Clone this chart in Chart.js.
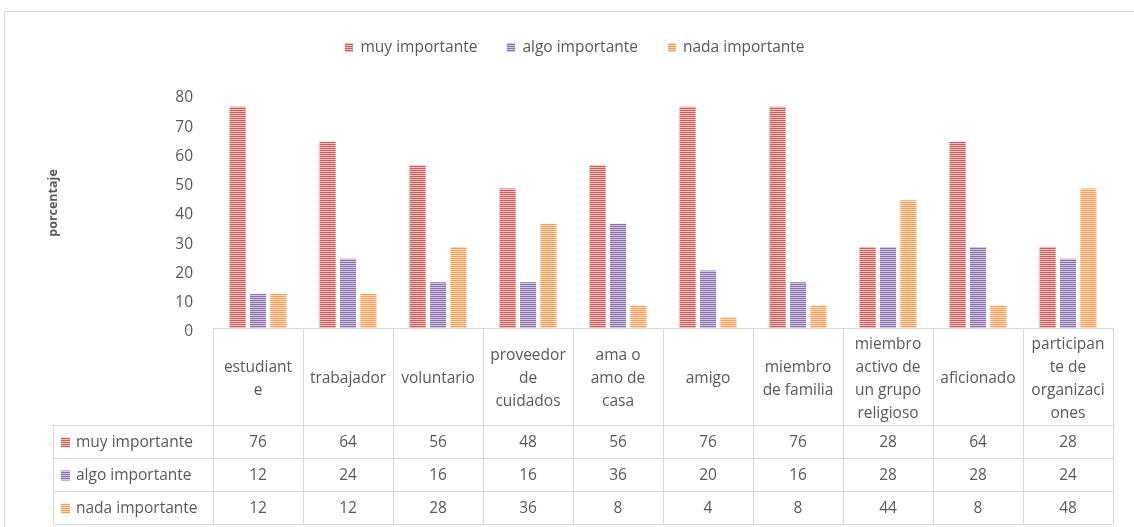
<!DOCTYPE html>
<html>
<head>
<meta charset="utf-8">
<script src="https://cdn.jsdelivr.net/npm/chart.js@4.4.0/dist/chart.umd.min.js"></script>
<style>
html,body{margin:0;padding:0;background:#fff;}
#wrap{width:1134px;height:527px;position:relative;}
</style>
</head>
<body>
<div id="wrap"><canvas id="c"></canvas></div>
<script>
// ---- data ----
const categories = [["estudiant","e"],["trabajador"],["voluntario"],["proveedor","de","cuidados"],["ama o","amo de","casa"],["amigo"],["miembro","de familia"],["miembro","activo de","un grupo","religioso"],["aficionado"],["participan","te de","organizaci","ones"]];
const seriesNames = ["muy importante","algo importante","nada importante"];
const muyImportante = [76,64,56,48,56,76,76,28,64,28];
const algoImportante = [12,24,16,16,36,20,16,28,28,24];
const nadaImportante = [12,12,28,36,8,4,8,44,8,48];
const yMin = 0, yMax = 80, yStep = 10;
const yTitle = "porcentaje";

// ---- styles ----
const FONT = "'Open Sans', sans-serif";
const FS = 15.5;
const TXT = "#595959";
const GRID = "#d9d9d9";
const palette = [["#c9605d","#ecbebd"],["#8a70ab","#d3c8e1"],["#f8a05a","#fdd8ba"]];

function stripe(dark, light){
  const c = document.createElement('canvas');
  c.width = 4; c.height = 2;
  const g = c.getContext('2d');
  g.fillStyle = light; g.fillRect(0,0,4,2);
  g.fillStyle = dark; g.fillRect(0,0,4,1);
  return g.createPattern(c,'repeat');
}
const ctx0 = document.getElementById('c').getContext('2d');
const patterns = palette.map(p => stripe(p[0], p[1]));
const seriesData = [muyImportante, algoImportante, nadaImportante];

const decorPlugin = {
  id: 'decor',
  beforeDraw(chart){
    const ctx = chart.ctx;
    ctx.save();
    ctx.fillStyle = '#fff';
    ctx.fillRect(0,0,chart.width,chart.height);
    ctx.strokeStyle = GRID;
    ctx.lineWidth = 1;
    ctx.strokeRect(4.5, 11.5, chart.width + 10, chart.height + 10);
    ctx.restore();
  },
  afterDraw(chart){
    const ctx = chart.ctx;
    const area = chart.chartArea;
    const xs = chart.scales.x;
    const n = categories.length;
    const w = (area.right - area.left) / n;
    const top = area.bottom;
    const headBottom = top + 97;
    const rowH = 33;
    const tableLeft = 53;
    ctx.save();
    ctx.strokeStyle = GRID;
    ctx.lineWidth = 1;
    const hl = (y, x1, x2) => { ctx.beginPath(); ctx.moveTo(x1, Math.round(y)+0.5); ctx.lineTo(x2, Math.round(y)+0.5); ctx.stroke(); };
    const vl = (x, y1, y2) => { ctx.beginPath(); ctx.moveTo(Math.round(x)+0.5, y1); ctx.lineTo(Math.round(x)+0.5, y2); ctx.stroke(); };
    hl(top, area.left, area.right);
    for (let r = 0; r <= 3; r++) hl(headBottom + r*rowH, tableLeft, area.right);
    for (let i = 0; i <= n; i++) vl(area.left + i*w, top, headBottom + 3*rowH);
    vl(tableLeft, headBottom, headBottom + 3*rowH);
    // category labels
    ctx.fillStyle = TXT;
    ctx.font = FS + "px " + FONT;
    ctx.textAlign = 'center';
    ctx.textBaseline = 'middle';
    const lh = 23;
    const mid = top + 51;
    for (let i = 0; i < n; i++) {
      const cx = xs.getPixelForValue(i);
      const lines = categories[i];
      const y0 = mid - (lines.length - 1) * lh / 2;
      lines.forEach((t, k) => ctx.fillText(t, cx, y0 + k*lh));
    }
    // data rows
    for (let s = 0; s < 3; s++) {
      const cy = headBottom + s*rowH + rowH/2 + 1;
      ctx.textAlign = 'center';
      ctx.fillStyle = TXT;
      for (let i = 0; i < n; i++) {
        ctx.fillText(String(seriesData[s][i]), xs.getPixelForValue(i), cy);
      }
      ctx.fillStyle = patterns[s];
      ctx.fillRect(61, cy - 5, 9, 10);
      ctx.fillStyle = TXT;
      ctx.textAlign = 'left';
      ctx.fillText(seriesNames[s], 76, cy);
    }
    // legend
    ctx.font = FS + "px " + FONT;
    const widths = seriesNames.map(t => ctx.measureText(t).width);
    const keyW = 8, keyGap = 7, itemGap = 30;
    const total = widths.reduce((a,b)=>a+b,0) + 3*(keyW+keyGap) + 2*itemGap;
    let x = 575 - total/2;
    const ly = 48;
    for (let s = 0; s < 3; s++) {
      ctx.fillStyle = patterns[s];
      ctx.fillRect(Math.round(x), ly - 5, keyW, 9);
      ctx.fillStyle = TXT;
      ctx.textAlign = 'left';
      ctx.fillText(seriesNames[s], x + keyW + keyGap, ly);
      x += keyW + keyGap + widths[s] + itemGap;
    }
    // y title
    ctx.save();
    ctx.translate(53, 203);
    ctx.rotate(-Math.PI/2);
    ctx.font = "bold 12.5px " + FONT;
    ctx.textAlign = 'center';
    ctx.fillStyle = TXT;
    ctx.fillText(yTitle, 0, 0);
    ctx.restore();
    ctx.restore();
  }
};

new Chart(document.getElementById('c'), {
  type: 'bar',
  data: {
    labels: categories,
    datasets: seriesNames.map((name, s) => ({
      label: name,
      data: seriesData[s],
      backgroundColor: patterns[s],
      borderColor: 'rgba(255,255,255,0.7)',
      borderWidth: 1,
      categoryPercentage: 0.68,
      barPercentage: 0.89
    }))
  },
  options: {
    responsive: true,
    maintainAspectRatio: false,
    animation: false,
    layout: { padding: { left: 43, right: 21, top: 94, bottom: 199 } },
    plugins: { legend: { display: false }, tooltip: { enabled: false } },
    scales: {
      x: { display: false },
      y: {
        min: yMin, max: yMax,
        ticks: { stepSize: yStep, padding: 20, labelOffset: 4, color: TXT, font: { family: FONT, size: FS } },
        grid: { display: false, drawTicks: false },
        border: { display: false },
        afterFit(scale){ scale.width = 170; }
      }
    }
  },
  plugins: [decorPlugin]
});
</script>
</body>
</html>
